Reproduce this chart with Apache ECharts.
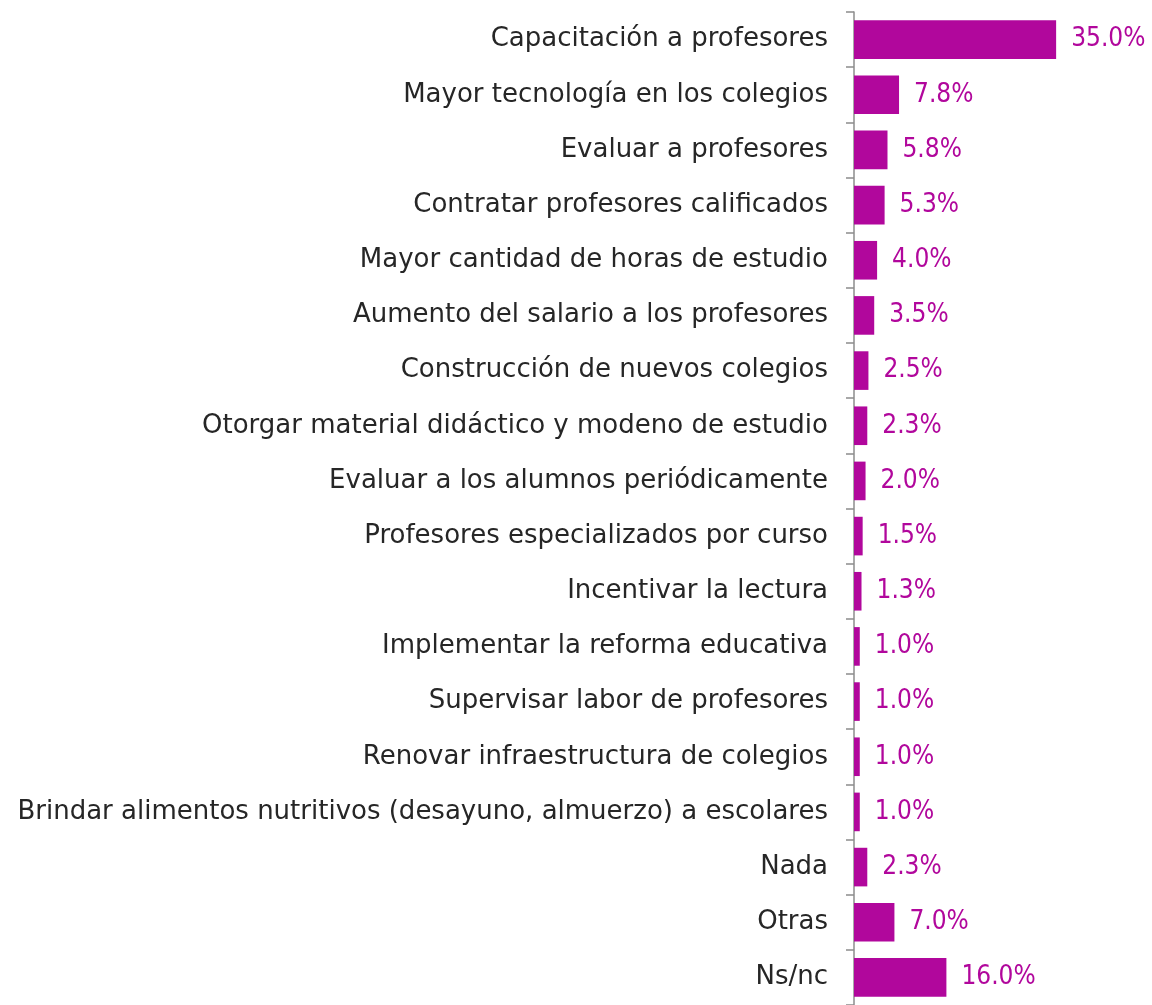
<!DOCTYPE html>
<html>
<head>
<meta charset="utf-8">
<script src="https://cdn.jsdelivr.net/npm/echarts@6/dist/echarts.min.js"></script>
<style>
  html, body { margin: 0; padding: 0; background: #fff; }
  #chart { width: 1152px; height: 1005px; }
</style>
</head>
<body>
<div id="chart"></div>
<script>
// categorias y porcentajes
const categories = [
  'Capacitación a profesores',
  'Mayor tecnología en los colegios',
  'Evaluar a profesores',
  'Contratar profesores calificados',
  'Mayor cantidad de horas de estudio',
  'Aumento del salario a los profesores',
  'Construcción de nuevos colegios',
  'Otorgar material didáctico y modeno de estudio',
  'Evaluar a los alumnos periódicamente',
  'Profesores especializados por curso',
  'Incentivar la lectura',
  'Implementar la reforma educativa',
  'Supervisar labor de profesores',
  'Renovar infraestructura de colegios',
  'Brindar alimentos nutritivos (desayuno, almuerzo) a escolares',
  'Nada',
  'Otras',
  'Ns/nc'
];
const values = [35.0, 7.8, 5.8, 5.3, 4.0, 3.5, 2.5, 2.3, 2.0, 1.5, 1.3, 1.0, 1.0, 1.0, 1.0, 2.3, 7.0, 16.0];

const chart = echarts.init(document.getElementById('chart'));

chart.setOption({
  animation: false,
  grid: { left: 854, top: 12, width: 231, height: 1000, containLabel: false },
  xAxis: {
    type: 'value',
    min: 0,
    max: 40,
    show: false
  },
  yAxis: {
    type: 'category',
    inverse: true,
    data: categories,
    axisLine: { show: true, lineStyle: { color: '#8c8c8c', width: 1.5 } },
    axisTick: { show: true, length: 8, lineStyle: { color: '#8c8c8c', width: 1.5 } },
    axisLabel: { color: '#262626', fontSize: 26, fontFamily: '"DejaVu Sans", sans-serif', margin: 26 }
  },
  series: [{
    type: 'bar',
    data: values,
    barCategoryGap: '30%',
    itemStyle: { color: '#B1079C' },
    label: {
      show: true,
      position: 'right',
      distance: 15,
      color: '#B1079C',
      fontSize: 26,
      fontFamily: '"DejaVu Sans Condensed", sans-serif',
      formatter: p => p.value.toFixed(1) + '%'
    }
  }]
});
</script>
</body>
</html>
